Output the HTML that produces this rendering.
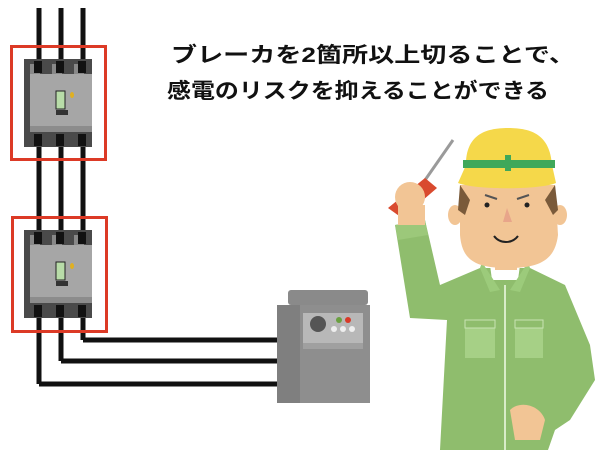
<!DOCTYPE html>
<html><head><meta charset="utf-8"><style>
html,body{margin:0;padding:0;background:#fff;}
svg{display:block;}
</style></head><body>
<svg width="600" height="450" viewBox="0 0 600 450" xmlns="http://www.w3.org/2000/svg">
<g stroke="#111" stroke-width="5" fill="none">
<line x1="39" y1="8" x2="39" y2="384"/>
<line x1="61" y1="8" x2="61" y2="361"/>
<line x1="83" y1="8" x2="83" y2="340"/>
<polyline points="39,384 280,384"/>
<polyline points="61,361 280,361"/>
<polyline points="83,340 280,340"/>
</g>
<g id="b1">
<rect x="24" y="59" width="68" height="88" fill="#4a4a4a"/>
<rect x="30" y="74" width="62" height="52" fill="#a6a6a6"/>
<rect x="30" y="126" width="62" height="6" fill="#8c8c8c"/>
<rect x="30" y="64" width="10" height="10" fill="#888"/><rect x="52" y="64" width="10" height="10" fill="#888"/><rect x="74" y="64" width="10" height="10" fill="#888"/>
<rect x="34" y="61" width="8" height="12" fill="#111"/><rect x="56" y="61" width="8" height="12" fill="#111"/><rect x="78" y="61" width="8" height="12" fill="#111"/>
<rect x="34" y="134" width="8" height="12" fill="#111"/><rect x="56" y="134" width="8" height="12" fill="#111"/><rect x="78" y="134" width="8" height="12" fill="#111"/>
<rect x="56" y="91" width="9" height="18" fill="#b8dca8" stroke="#222" stroke-width="1"/>
<rect x="56" y="110" width="12" height="5" fill="#333"/>
<ellipse cx="72" cy="95" rx="2" ry="3" fill="#e0b020"/>
</g>
<use href="#b1" transform="translate(0,171)"/>
<rect x="11.5" y="46.5" width="94" height="113" fill="none" stroke="#dc3a26" stroke-width="3"/>
<rect x="12.5" y="217.5" width="94" height="114" fill="none" stroke="#dc3a26" stroke-width="3"/>
<text x="373" y="62" text-anchor="middle" font-family="Liberation Sans, Noto Sans CJK JP, sans-serif" font-weight="bold" font-size="21" fill="#111" textLength="404" lengthAdjust="spacingAndGlyphs">ブレーカを2箇所以上切ることで、</text>
<text x="358" y="98" text-anchor="middle" font-family="Liberation Sans, Noto Sans CJK JP, sans-serif" font-weight="bold" font-size="21" fill="#111" textLength="382" lengthAdjust="spacingAndGlyphs">感電のリスクを抑えることができる</text>
<!-- inverter -->
<rect x="277" y="305" width="93" height="98" fill="#7f7f7f"/>
<rect x="288" y="290" width="80" height="15" rx="3" fill="#8a8a8a"/>
<rect x="300" y="305" width="70" height="98" fill="#8e8e8e"/>
<rect x="305" y="314" width="58" height="15" fill="#9a9a9a"/>
<rect x="303" y="313" width="60" height="30" fill="#b8b8b8"/>
<circle cx="318" cy="324" r="8" fill="#555"/>
<circle cx="339" cy="320" r="3" fill="#6aa040"/><circle cx="348" cy="320" r="3" fill="#d83a28"/>
<circle cx="334" cy="329" r="3" fill="#eee"/><circle cx="343" cy="329" r="3" fill="#eee"/><circle cx="352" cy="329" r="3" fill="#eee"/>
<rect x="303" y="343" width="60" height="6" fill="#a0a0a0"/>
<!-- person body -->
<path d="M395 225 L425 220 L440 285 L480 268 L530 268 L565 285 L590 345 L595 380 L570 420 L555 430 L548 450 L440 450 L447 320 L410 318 Z" fill="#8fbd6d"/>
<path d="M395 225 L425 220 L428 235 L398 240 Z" fill="#9cc87a"/>
<path d="M490 265 L520 265 L518 280 L492 280 Z" fill="#fff"/>
<path d="M482 262 L500 290 L490 292 L480 268 Z M528 262 L510 290 L520 292 L530 268 Z" fill="#9ccb7b"/>
<line x1="505" y1="285" x2="505" y2="450" stroke="#d8ecc8" stroke-width="2"/>
<rect x="465" y="320" width="30" height="38" fill="#a6d086"/><rect x="515" y="320" width="28" height="38" fill="#a6d086"/>
<rect x="465" y="320" width="30" height="8" fill="#8fbd6d" stroke="#c8e4b4"/><rect x="515" y="320" width="28" height="8" fill="#8fbd6d" stroke="#c8e4b4"/>
<path d="M510 410 C520 400 540 405 545 420 L540 440 L515 440 Z" fill="#f2c595"/>
<!-- hand + screwdriver -->
<line x1="453" y1="140" x2="423" y2="183" stroke="#9a9a9a" stroke-width="3"/>
<path d="M425 178 L437 188 L402 218 L388 208 Z" fill="#d94a2e"/>
<ellipse cx="410" cy="197" rx="15" ry="15" fill="#f2c595"/>
<rect x="398" y="205" width="27" height="20" fill="#f2c595"/>
<!-- head -->
<rect x="495" y="250" width="22" height="20" fill="#f2c595"/>
<ellipse cx="455" cy="215" rx="7" ry="10" fill="#f2c595"/><ellipse cx="560" cy="215" rx="7" ry="10" fill="#f2c595"/>
<path d="M460 185 L555 185 L558 235 C555 260 540 268 508 268 C475 268 462 260 460 235 Z" fill="#f2c595"/>
<path d="M460 185 L470 200 L465 215 L458 210 Z M555 185 L545 200 L553 215 L558 210 Z" fill="#7a5a3a"/>
<path d="M466 165 C466 135 485 128 508 128 C532 128 550 135 552 165 L556 183 C540 190 475 190 458 183 Z" fill="#f5d84a"/>
<rect x="463" y="160" width="92" height="8" fill="#3fa85a"/>
<path d="M505 155 h6 v5 h5 v6 h-5 v5 h-6 v-5 h-5 v-6 h5 z" fill="#3fa85a"/>
<circle cx="487" cy="205" r="2.5" fill="#222"/><circle cx="527" cy="205" r="2.5" fill="#222"/>
<path d="M485 195 l12 4 M529 195 l-12 4" stroke="#555" stroke-width="2"/>
<path d="M507 208 L503 222 L512 222 Z" fill="#e8a58a"/>
<path d="M494 236 C500 244 512 244 518 236" stroke="#222" stroke-width="2" fill="none"/>
</svg>
</body></html>
